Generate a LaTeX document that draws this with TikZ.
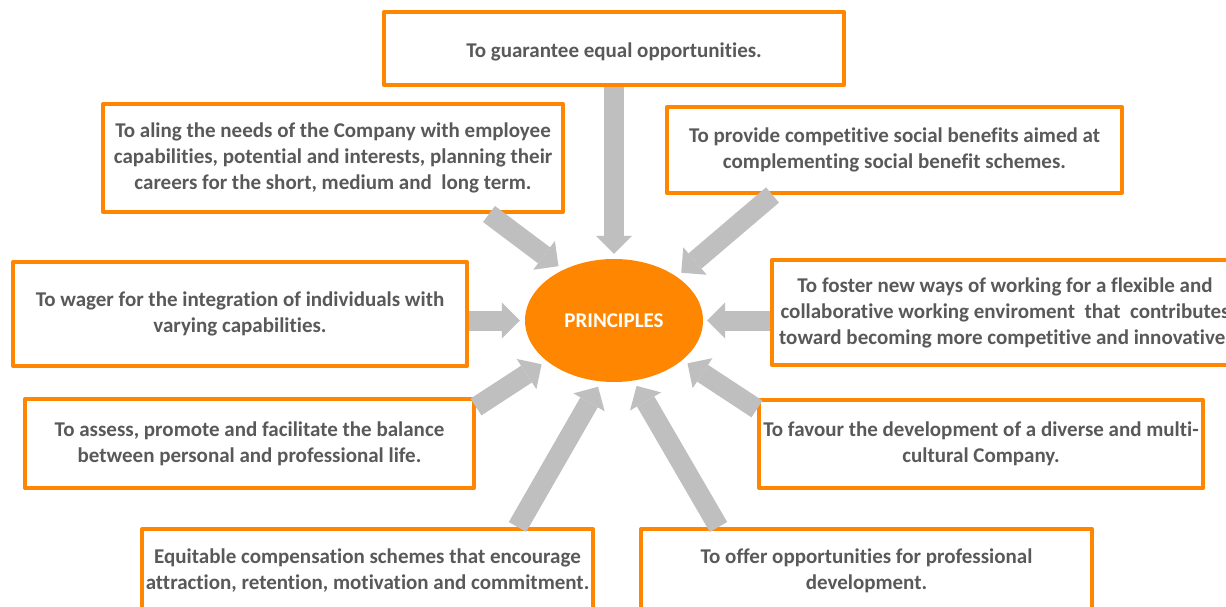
\documentclass[tikz,border=0pt]{standalone}
\usepackage{fontspec}
\setmainfont{Carlito}[Ligatures=NoCommon]
\usetikzlibrary{shapes.geometric,arrows.meta}
\definecolor{boxorange}{RGB}{255,134,0}
\definecolor{arrowgray}{RGB}{191,191,191}
\definecolor{textgray}{RGB}{89,89,89}
\tikzstyle{block} = [rectangle, draw=boxorange, line width=4pt, fill=white,
    line join=round, align=center, text=textgray,
    font=\fontsize{21}{26}\selectfont\bfseries,
    execute at begin node={\rule{0pt}{22pt}}]
\tikzstyle{hub} = [ellipse, fill=boxorange, inner sep=0pt,
    minimum width=178pt, minimum height=123pt, text=white,
    font=\fontsize{21}{26}\selectfont\bfseries]
\tikzstyle{feed} = [draw=arrowgray, line width=20pt,
    -{Triangle[width=36pt,length=18pt,line width=0pt]}]

\begin{document}
\begin{tikzpicture}[x=1pt,y=-1pt]
  \useasboundingbox (0,0) rectangle (1226,607);
  \fill[white] (0,0) rectangle (1226,607);

  % Place nodes
  \node [hub] (core) at (614,320.5) {PRINCIPLES};
  \node [block, minimum width=460pt, minimum height=73pt] (goal) at (614,48.5)
    {To guarantee equal opportunities.};
  \node [block, minimum width=460pt, minimum height=108pt] (career) at (333,158)
    {To aling the needs of the Company with employee\\capabilities, potential and interests, planning their\\careers for the short, medium and\ \ long term.};
  \node [block, minimum width=455pt, minimum height=86pt] (benefits) at (894.5,150)
    {To provide competitive social benefits aimed at\\complementing social benefit schemes.};
  \node [block, minimum width=454pt, minimum height=104pt] (integration) at (240,314)
    {To wager for the integration of individuals with\\varying capabilities.};
  \node [block, minimum width=466pt, minimum height=105pt] (flexible) at (1005,312.5)
    {To foster new ways of working for a flexible and\\collaborative working enviroment\ \ that\ \ contributes\\toward becoming more competitive and innovative.};
  \node [block, minimum width=449pt, minimum height=89pt] (balance) at (249.5,443.5)
    {To assess, promote and facilitate the balance\\between personal and professional life.};
  \node [block, minimum width=444pt, minimum height=88pt] (diverse) at (981,444)
    {To favour the development of a diverse and multi-\\cultural Company.};
  \node [block, minimum width=447pt, minimum height=83pt] (compensation) at (367.5,570.5)
    {Equitable compensation schemes that encourage\\attraction, retention, motivation and commitment.};
  \node [block, minimum width=451pt, minimum height=83pt] (development) at (866.5,570.5)
    {To offer opportunities for professional\\development.};

  % Draw edges
  \path [feed, shorten >=5pt] (goal) -- (core);
  \path [feed, shorten >=6pt] ([xshift=156pt]career.south) -- (core.135);
  \path [feed, shorten >=6pt] ([xshift=-122pt]benefits.south) -- (core.35);
  \path [feed, shorten >=5pt] (integration.east |- core.west) -- (core.west);
  \path [feed, shorten >=4pt] (flexible.west |- core.east) -- (core.east);
  \path [feed, shorten >=6pt] ([yshift=36.5pt]balance.east) -- (core.211);
  \path [feed, shorten >=6pt] ([yshift=35pt]diverse.west) -- (core.330);
  \path [feed, shorten >=6pt] ([xshift=150pt]compensation.north) -- (core.258);
  \path [feed, shorten >=6pt] ([xshift=-148pt]development.north) -- (core.288);
\end{tikzpicture}
\end{document}
